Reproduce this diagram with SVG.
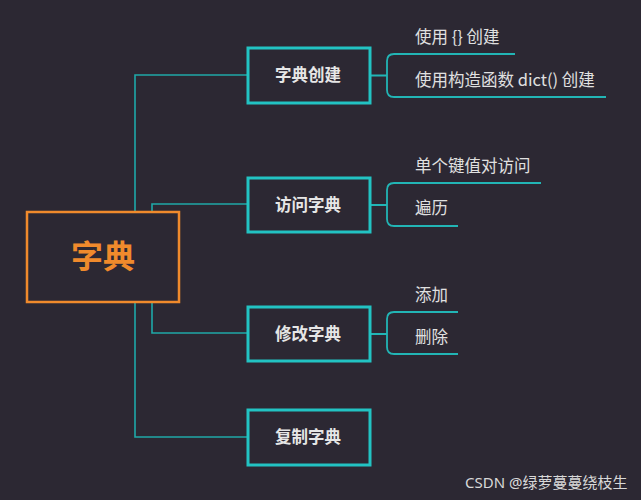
<svg xmlns="http://www.w3.org/2000/svg" width="641" height="500" viewBox="0 0 641 500">
<style>
.bg{fill:#2c2833}
.l1{fill:#2c2833;stroke:#22c3c3;stroke-width:3}
.root{fill:#2c2833;stroke:#f08a2c;stroke-width:2.5}
.con{fill:none;stroke:#1fa8a8;stroke-width:1.6}
.br{fill:none;stroke:#22b5b5;stroke-width:1.8}
.t1{font-family:"Noto Sans CJK SC","Noto Sans",sans-serif;font-size:16.5px;font-weight:bold;fill:#e6e6e6;text-anchor:middle}
.t2{font-family:"Noto Sans CJK SC","Noto Sans",sans-serif;font-size:16.5px;fill:#e0e0e0}
.tr{font-family:"Noto Sans CJK SC",sans-serif;font-size:32px;font-weight:bold;fill:#f08a2c;text-anchor:middle}
.wm{font-family:"Noto Sans","Noto Sans CJK SC",sans-serif;font-size:15px;fill:#d8d8d8}
</style>
<rect class="bg" x="0" y="0" width="641" height="500"/>
<g id="connectors">
<path class="con" d="M248,75 H135 V437 H248"/>
<path class="con" d="M248,204 H152 V333 H248"/>
<path class="br" d="M370,75.5 H387 M394,54 H515 M394,54 Q387,54 387,61 V90 Q387,97 394,97 H606"/>
<path class="br" d="M370,205 H387 M394,183 H541 M394,183 Q387,183 387,190 V219 Q387,226 394,226 H458"/>
<path class="br" d="M370,334 H387 M394,312 H458 M394,312 Q387,312 387,319 V347 Q387,354 394,354 H458"/>
</g>
<g id="root">
<rect class="root" x="27" y="212" width="152" height="90"/>
<text class="tr" x="103" y="268">字典</text>
</g>
<g id="n1">
<rect class="l1" x="248" y="48" width="122" height="55"/>
<text class="t1" x="308" y="81">字典创建</text>
</g>
<g id="n2">
<rect class="l1" x="248" y="178" width="122" height="54"/>
<text class="t1" x="308" y="210.5">访问字典</text>
</g>
<g id="n3">
<rect class="l1" x="248" y="307" width="122" height="54"/>
<text class="t1" x="308" y="339.5">修改字典</text>
</g>
<g id="n4">
<rect class="l1" x="248" y="410" width="122" height="55"/>
<text class="t1" x="308" y="443">复制字典</text>
</g>
<g id="leaves">
<text class="t2" x="415" y="43">使用 {} 创建</text>
<text class="t2" x="415" y="86">使用构造函数 dict() 创建</text>
<text class="t2" x="415" y="172">单个键值对访问</text>
<text class="t2" x="415" y="214">遍历</text>
<text class="t2" x="415" y="301">添加</text>
<text class="t2" x="415" y="343">删除</text>
</g>
<text class="wm" x="465" y="488">CSDN @绿萝蔓蔓绕枝生</text>
</svg>
